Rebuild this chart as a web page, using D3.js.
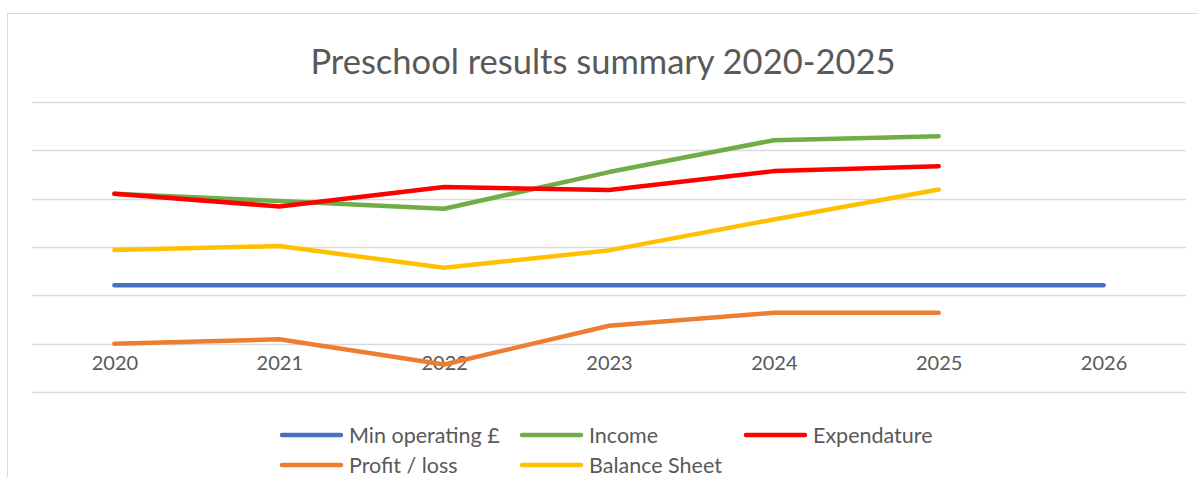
<!DOCTYPE html>
<html>
<head>
<meta charset="utf-8">
<script src="https://cdn.jsdelivr.net/npm/d3@7"></script>
<style>
  html, body { margin: 0; padding: 0; background: #fff; }
  svg { display: block; font-family: Lato, "Open Sans", sans-serif; }
</style>
</head>
<body>
<svg id="chart" width="1198" height="477"></svg>
<script>
const categories = ["2020", "2021", "2022", "2023", "2024", "2025", "2026"];
const minOperating = [1.21, 1.21, 1.21, 1.21, 1.21, 1.21, 1.21];
const income = [3.10, 2.95, 2.79, 3.55, 4.21, 4.29];
const expenditure = [3.10, 2.84, 3.24, 3.18, 3.57, 3.67];
const profitLoss = [0.00, 0.09, -0.43, 0.37, 0.64, 0.64];
const balanceSheet = [1.94, 2.02, 1.57, 1.93, 2.57, 3.19];
const yTicks = [-1, 0, 1, 2, 3, 4, 5];
const seriesNames = ["Min operating £", "Income", "Expendature", "Profit / loss", "Balance Sheet"];
const seriesColors = ["#4472C4", "#70AD47", "#FF0000", "#ED7D31", "#FFC000"];

const series = [minOperating, income, expenditure, profitLoss, balanceSheet].map((vals, i) => ({
  name: seriesNames[i], color: seriesColors[i], values: vals
}));

const svg = d3.select("#chart");

// chart frame
svg.append("rect").attr("x", 7.5).attr("y", 13.5).attr("width", 1300).attr("height", 600)
  .attr("fill", "#fff").attr("stroke", "#d9d9d9").attr("stroke-width", 1);

const x = d3.scalePoint().domain(categories).range([32, 1186]).padding(0.5);
const y = d3.scaleLinear().domain([-1, 5]).range([392, 102]);

// gridlines
svg.append("g").selectAll("line").data(yTicks).join("line")
  .attr("x1", 32).attr("x2", 1186)
  .attr("y1", d => Math.round(y(d)) + 0.5).attr("y2", d => Math.round(y(d)) + 0.5)
  .attr("stroke", "#d9d9d9").attr("stroke-width", 1.5);

// title
svg.append("text").attr("x", 603).attr("y", 74).attr("text-anchor", "middle")
  .attr("font-size", 34.5).attr("fill", "#595959").text("Preschool results summary 2020-2025");

// x axis labels (at zero line)
const xAxis = d3.axisBottom(x).tickSize(0).tickPadding(12);
const gx = svg.append("g").attr("transform", `translate(0,${y(0)})`).call(xAxis);
gx.select(".domain").remove();
gx.selectAll("text").attr("font-size", 20).attr("fill", "#595959")
  .attr("font-family", "Lato, 'Open Sans', sans-serif");

// lines
const line = d3.line().x((d, i) => x(categories[i])).y(d => y(d));
svg.append("g").selectAll("path").data(series).join("path")
  .attr("d", d => line(d.values))
  .attr("fill", "none").attr("stroke", d => d.color)
  .attr("stroke-width", 4.5).attr("stroke-linecap", "round").attr("stroke-linejoin", "round");

// legend
const legendPos = [
  { x: 280, y: 435 }, { x: 520, y: 435 }, { x: 744, y: 435 },
  { x: 280, y: 465 }, { x: 520, y: 465 }
];
const lg = svg.append("g").selectAll("g").data(series).join("g")
  .attr("transform", (d, i) => `translate(${legendPos[i].x},${legendPos[i].y})`);
lg.append("line").attr("x1", 2).attr("x2", 61).attr("y1", 0).attr("y2", 0)
  .attr("stroke", d => d.color).attr("stroke-width", 4.5).attr("stroke-linecap", "round");
lg.append("text").attr("x", 69).attr("y", 0).attr("dy", "0.35em")
  .attr("font-size", 21.5).attr("fill", "#595959").text(d => d.name);
</script>
</body>
</html>
